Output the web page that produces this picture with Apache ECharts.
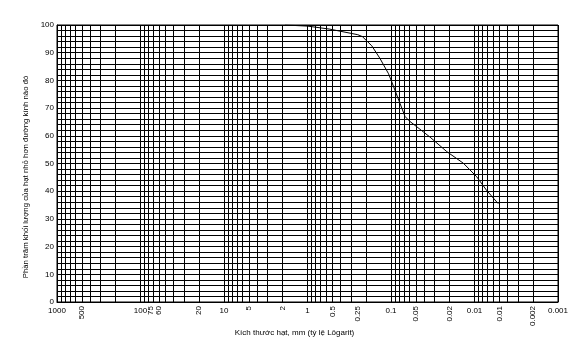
<!DOCTYPE html>
<html>
<head>
<meta charset="utf-8">
<script src="https://cdn.jsdelivr.net/npm/echarts@6/dist/echarts.min.js"></script>
<style>
html,body{margin:0;padding:0;background:#fff;}
#chart{width:585px;height:356px;}
</style>
</head>
<body>
<div id="chart"></div>
<script>
// Particle size (mm) and percent finer
var diameters = [1.86, 1.0, 0.54, 0.25, 0.22, 0.17, 0.136, 0.107, 0.098, 0.078, 0.068, 0.06, 0.034, 0.0215, 0.0136, 0.0094, 0.0072, 0.0052];
var percentFiner = [100, 99.6, 98.5, 96.5, 95.8, 92.5, 88, 82.4, 79.5, 71.7, 67, 65.3, 59.5, 54.3, 50.1, 45.2, 40.4, 35.5];

// Horizontal tick labels
var mainTickValues = [1000, 100, 10, 1, 0.1, 0.01, 0.001];
var mainTickLabels = ["1000", "100", "10", "1", "0.1", "0.01", "0.001"];
// Rotated tick labels
var rotTickValues = [500, 75, 60, 20, 5, 2, 0.5, 0.25, 0.05, 0.02, 0.005, 0.002];
var rotTickLabels = ["500", "75", "60", "20", "5", "2", "0.5", "0.25", "0.05", "0.02", "0.01", "0.002"];

var yTickValues = [0, 10, 20, 30, 40, 50, 60, 70, 80, 90, 100];

var xAxisName = "Kích thước hạt, mm (tỷ lệ Lôgarit)";
var yAxisName = "Phần trăm khối lượng của hạt nhỏ hơn đường kính nào đó";

// grid line values 1..9 x 10^k
var gridValues = [];
for (var e = -3; e <= 2; e++) {
  for (var m = 1; m <= 9; m++) {
    gridValues.push(+(m * Math.pow(10, e)).toPrecision(6));
  }
}
gridValues.push(1000);

function lookup(vals, labels) {
  return function (v) {
    for (var i = 0; i < vals.length; i++) {
      if (Math.abs(Math.log10(v) - Math.log10(vals[i])) < 1e-6) return labels[i];
    }
    return '';
  };
}

var font = 'Liberation Sans, Arial, sans-serif';
var chart = echarts.init(document.getElementById('chart'));
var seriesData = diameters.map(function (d, i) { return [d, percentFiner[i]]; });

chart.setOption({
  animation: false,
  backgroundColor: '#fff',
  grid: { left: 57, right: 27, top: 25, bottom: 54, show: true, borderColor: '#000', borderWidth: 1 },
  xAxis: [{
    type: 'log', logBase: 10, min: 0.001, max: 1000, inverse: true,
    position: 'bottom',
    name: xAxisName, nameLocation: 'middle', nameGap: 27,
    nameTextStyle: { fontSize: 8, fontFamily: font, color: '#000', padding: [0, 26, 0, 0] },
    axisLine: { show: true, lineStyle: { color: '#000', width: 1 } },
    axisTick: { show: false, customValues: gridValues },
    splitLine: { show: true, lineStyle: { color: '#000', width: 1 } },
    minorSplitLine: { show: false },
    axisLabel: { customValues: mainTickValues, formatter: lookup(mainTickValues, mainTickLabels), fontSize: 8, fontFamily: font, color: '#000', margin: 5 }
  }, {
    type: 'log', logBase: 10, min: 0.001, max: 1000, inverse: true,
    position: 'bottom',
    axisLine: { show: false },
    axisTick: { show: false },
    splitLine: { show: false },
    axisLabel: { customValues: rotTickValues, rotate: 90, formatter: lookup(rotTickValues, rotTickLabels), fontSize: 8, fontFamily: font, color: '#000', margin: 4 }
  }],
  yAxis: {
    type: 'value', min: 0, max: 100, interval: 2,
    name: yAxisName, nameLocation: 'middle', nameGap: 24, nameRotate: 90,
    nameTextStyle: { fontSize: 7.8, fontFamily: font, color: '#000', padding: [0, 27, 0, 0] },
    axisLine: { show: true, lineStyle: { color: '#000', width: 1 } },
    axisTick: { show: false },
    splitLine: { show: true, lineStyle: { color: '#000', width: 1 } },
    axisLabel: { customValues: yTickValues, fontSize: 8, fontFamily: font, color: '#000', margin: 3 }
  },
  series: [{
    type: 'line', xAxisIndex: 0, data: seriesData,
    showSymbol: false, symbol: 'none',
    lineStyle: { color: '#000', width: 1 }
  }]
});
</script>
</body>
</html>
